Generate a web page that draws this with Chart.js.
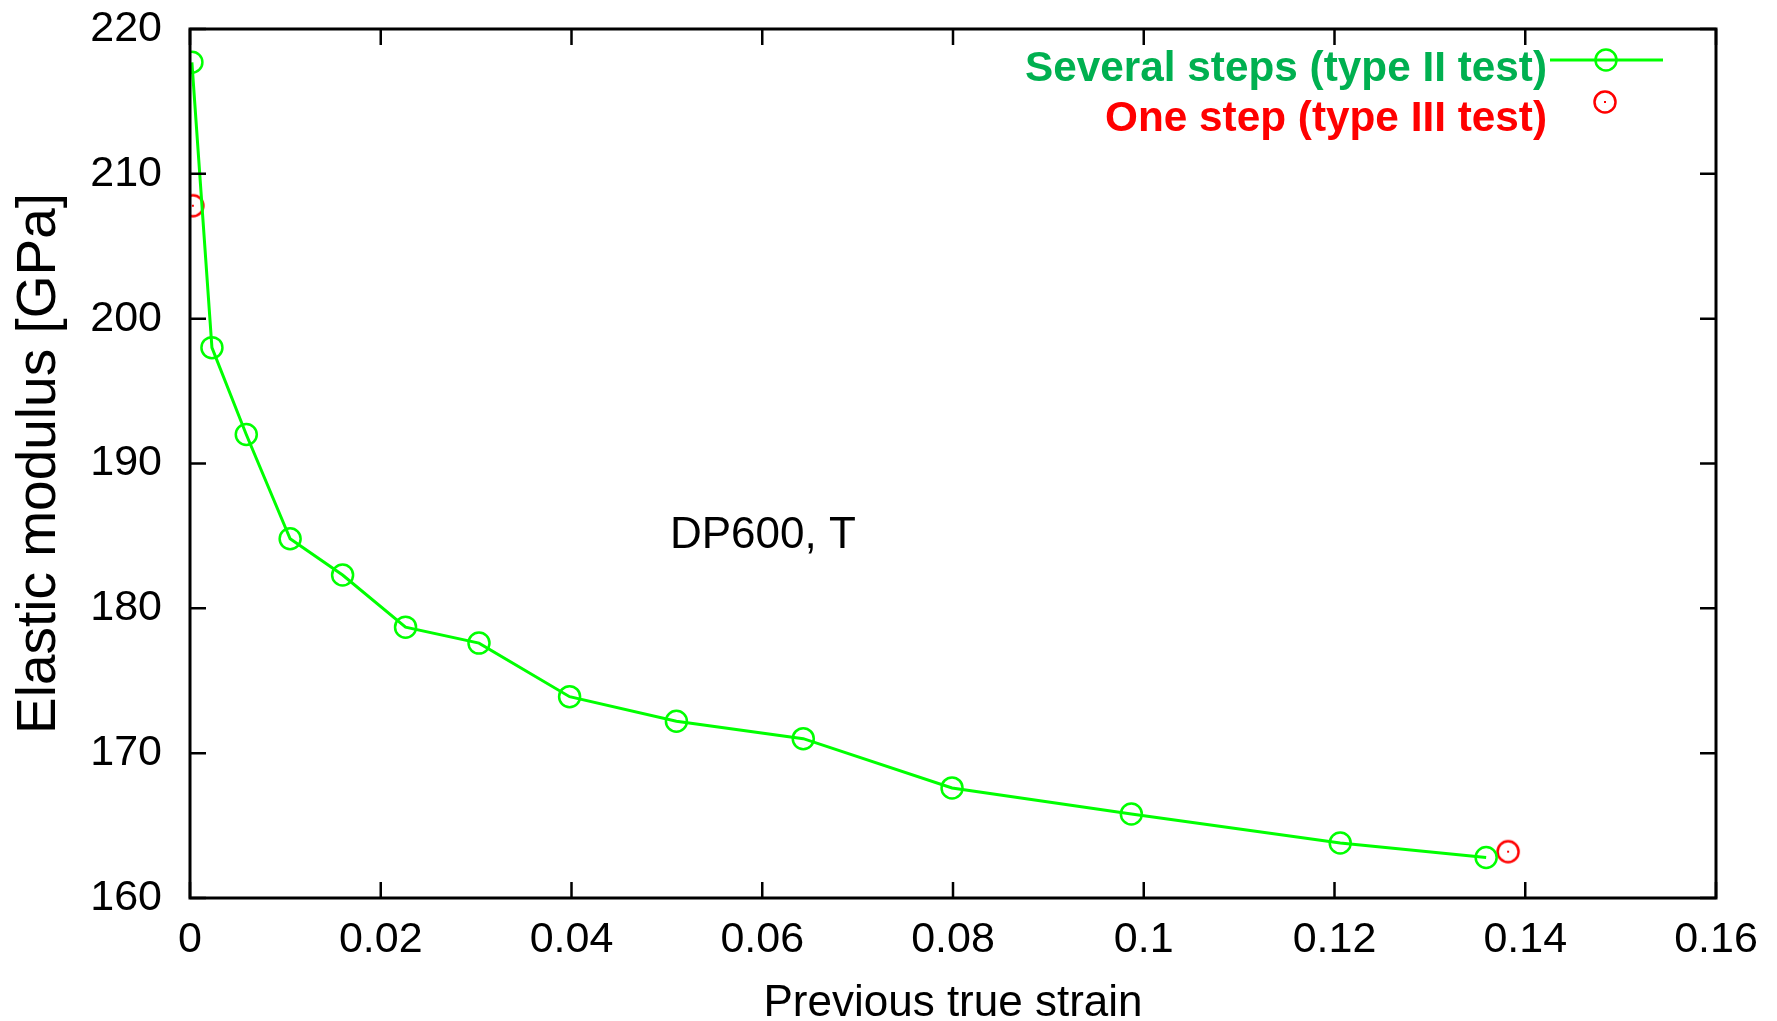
<!DOCTYPE html>
<html>
<head>
<meta charset="utf-8">
<title>Elastic modulus vs previous true strain</title>
<script src="https://cdn.jsdelivr.net/npm/chart.js@4.4.1/dist/chart.umd.min.js"></script>
<style>
  html, body { margin: 0; padding: 0; background: #ffffff; }
  #wrap { width: 1777px; height: 1021px; }
</style>
</head>
<body>
<div id="wrap"><canvas id="modulus" width="1777" height="1021"></canvas></div>
<script>
// values
var severalStrain  = [0.0002, 0.0023, 0.0059, 0.0105, 0.0160, 0.0226, 0.0303, 0.0398, 0.0510, 0.0643, 0.0799, 0.0987, 0.1206, 0.1359];
var severalModulus = [217.7, 198.0, 192.0, 184.8, 182.3, 178.7, 177.6, 173.9, 172.2, 171.0, 167.6, 165.8, 163.8, 162.8];
var oneStrain  = [0.0003, 0.1382];
var oneModulus = [207.8, 163.2];

var xTicks = [0, 0.02, 0.04, 0.06, 0.08, 0.1, 0.12, 0.14, 0.16];
var yTicks = [160, 170, 180, 190, 200, 210, 220];

var labelSeveral = "Several steps (type II test)";
var labelOne = "One step (type III test)";
var noteText = "DP600, T";

var FONT = "'Liberation Sans', Arial, Helvetica, sans-serif";

function toPoints(xs, ys) {
  var pts = [];
  for (var i = 0; i < xs.length; i++) pts.push({ x: xs[i], y: ys[i] });
  return pts;
}

// gnuplot style point: open circle with a dot in the middle
function dotCircle(color) {
  var c = document.createElement("canvas");
  c.width = 28; c.height = 28;
  var g = c.getContext("2d");
  g.strokeStyle = color;
  g.lineWidth = 2.5;
  g.beginPath();
  g.arc(14, 14, 10.5, 0, Math.PI * 2);
  g.stroke();
  g.fillStyle = color;
  g.fillRect(13, 13, 2, 2);
  return c;
}
var redMark = dotCircle("#ff0000");

// frame, inward ticks on all four sides, legend and note
var framePlugin = {
  id: "frame",
  afterDatasetsDraw: function (chart) {
    var ctx = chart.ctx;
    var a = chart.chartArea;
    var xs = chart.scales.x, ys = chart.scales.y;
    var len = 16;
    ctx.save();
    ctx.strokeStyle = "#000000";
    ctx.lineWidth = 2.5;
    xTicks.forEach(function (v) {
      var px = xs.getPixelForValue(v);
      ctx.beginPath();
      ctx.moveTo(px, a.bottom); ctx.lineTo(px, a.bottom - len);
      ctx.moveTo(px, a.top); ctx.lineTo(px, a.top + len);
      ctx.stroke();
    });
    yTicks.forEach(function (v) {
      var py = ys.getPixelForValue(v);
      ctx.beginPath();
      ctx.moveTo(a.left, py); ctx.lineTo(a.left + len, py);
      ctx.moveTo(a.right, py); ctx.lineTo(a.right - len, py);
      ctx.stroke();
    });
    ctx.lineWidth = 3;
    ctx.strokeRect(a.left, a.top, a.right - a.left, a.bottom - a.top);

    // legend, text right aligned with the sample on its right
    var ds0 = chart.data.datasets[0], ds1 = chart.data.datasets[1];
    ctx.font = "bold 43px " + FONT;
    ctx.textAlign = "right";
    ctx.textBaseline = "alphabetic";
    ctx.fillStyle = "#00b050";
    ctx.fillText(labelSeveral, 1547, 81, 522);
    ctx.fillStyle = "#ff0000";
    ctx.fillText(labelOne, 1547, 131, 442);

    ctx.strokeStyle = ds0.borderColor;
    ctx.lineWidth = ds0.borderWidth;
    ctx.beginPath();
    ctx.moveTo(1550, 60); ctx.lineTo(1663, 60);
    ctx.stroke();
    ctx.lineWidth = ds0.pointBorderWidth;
    ctx.beginPath();
    ctx.arc(1606, 60, ds0.pointRadius, 0, Math.PI * 2);
    ctx.stroke();
    ctx.drawImage(ds1.pointStyle, 1605 - 14, 102 - 14);

    // note inside the plot
    ctx.font = "44px " + FONT;
    ctx.textAlign = "left";
    ctx.fillStyle = "#000000";
    ctx.fillText(noteText, 670, 548);
    ctx.restore();
  }
};

var ctx = document.getElementById("modulus");

var chart = new Chart(ctx, {
  type: "scatter",
  data: {
    datasets: [
      {
        label: labelSeveral,
        data: toPoints(severalStrain, severalModulus),
        showLine: true,
        tension: 0,
        borderColor: "#00ff00",
        borderWidth: 3,
        pointStyle: "circle",
        pointRadius: 10.5,
        pointBorderWidth: 2.5,
        pointBorderColor: "#00ff00",
        pointBackgroundColor: "rgba(0,0,0,0)",
        backgroundColor: "rgba(0,0,0,0)"
      },
      {
        label: labelOne,
        data: toPoints(oneStrain, oneModulus),
        showLine: false,
        pointStyle: redMark,
        pointRadius: 10.5,
        borderColor: "#ff0000",
        backgroundColor: "rgba(0,0,0,0)"
      }
    ]
  },
  options: {
    responsive: false,
    animation: false,
    layout: { padding: { left: 0, top: 29, right: 61, bottom: 0 } },
    plugins: {
      legend: { display: false },
      tooltip: { enabled: false }
    },
    scales: {
      x: {
        type: "linear",
        min: 0,
        max: 0.16,
        afterBuildTicks: function (s) { s.ticks = xTicks.map(function (v) { return { value: v }; }); },
        afterFit: function (s) { s.height = 123; },
        // tick marks are drawn inward by the plugin; the hidden tick length only spaces the labels
        grid: { display: false, drawTicks: true, tickLength: 16 },
        border: { display: false },
        ticks: {
          color: "#000000",
          padding: 0,
          maxRotation: 0,
          font: { family: FONT, size: 43 },
          callback: function (v) { return String(Math.round(v * 100) / 100); }
        },
        title: {
          display: true,
          text: "Previous true strain",
          color: "#000000",
          padding: { top: 0, bottom: -9 },
          font: { family: FONT, size: 44 }
        }
      },
      y: {
        type: "linear",
        min: 160,
        max: 220,
        afterBuildTicks: function (s) { s.ticks = yTicks.map(function (v) { return { value: v }; }); },
        afterFit: function (s) { s.width = 190; },
        grid: { display: false, drawTicks: true, tickLength: 28 },
        border: { display: false },
        ticks: {
          color: "#000000",
          padding: 0,
          font: { family: FONT, size: 43 }
        },
        title: {
          display: true,
          text: "Elastic modulus [GPa]",
          color: "#000000",
          padding: { top: 7, bottom: 0 },
          font: { family: FONT, size: 55 }
        }
      }
    }
  },
  plugins: [framePlugin]
});
</script>
</body>
</html>
